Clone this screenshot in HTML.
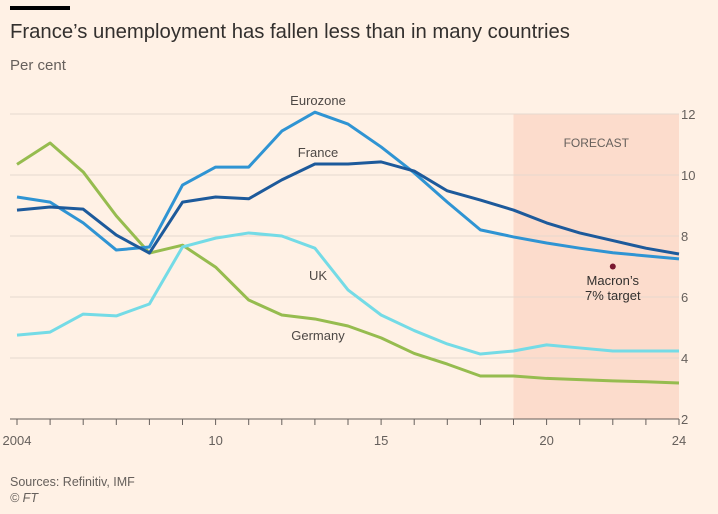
<!DOCTYPE html>
<html><head><meta charset="utf-8"><style>
body{margin:0;background:#fff1e5;width:718px;height:509px;overflow:hidden;font-family:"Liberation Sans",sans-serif}
svg text{font-family:"Liberation Sans",sans-serif}
</style></head><body>
<svg width="718" height="509">
<rect x="10" y="6" width="60" height="4" fill="#000"/>
<text x="10" y="38" font-size="20.3" fill="#33302e">France’s unemployment has fallen less than in many countries</text>
<text x="10" y="70" font-size="15" fill="#66605c">Per cent</text>
<g id="plot"></g>
<text x="10" y="486" font-size="12.5" fill="#66605c">Sources: Refinitiv, IMF</text>
<text x="10" y="502" font-size="12.5" fill="#66605c" font-style="italic">© FT</text>
</svg>
<script>
const years=[2004,2005,2006,2007,2008,2009,2010,2011,2012,2013,2014,2015,2016,2017,2018,2019,2020,2021,2022,2023,2024];
const eurozone=[9.28,9.11,8.43,7.54,7.64,9.67,10.26,10.26,11.44,12.06,11.67,10.92,10.07,9.11,8.2,7.97,7.77,7.6,7.45,7.35,7.25];
const france=[8.85,8.95,8.88,8.03,7.44,9.11,9.28,9.22,9.84,10.36,10.36,10.43,10.13,9.48,9.18,8.85,8.43,8.1,7.85,7.6,7.41];
const uk=[4.75,4.85,5.44,5.38,5.77,7.64,7.93,8.1,8.0,7.6,6.23,5.41,4.9,4.46,4.13,4.23,4.43,4.33,4.23,4.23,4.23];
const germany=[10.35,11.05,10.1,8.66,7.44,7.7,6.98,5.9,5.41,5.28,5.05,4.66,4.15,3.8,3.41,3.41,3.33,3.29,3.25,3.22,3.18];
const yTicks=[2,4,6,8,10,12];
const xTickLabels=[[2004,"2004"],[2010,"10"],[2015,"15"],[2020,"20"],[2024,"24"]];
const forecastStart=2019, targetYear=2022, targetValue=7;
const X=y=>17+(y-2004)*(662/20);
const Y=v=>419-(v-2)*30.5;
const NS="http://www.w3.org/2000/svg";
const g=document.getElementById('plot');
function mk(t,a){const e=document.createElementNS(NS,t);for(const k in a)e.setAttribute(k,a[k]);g.appendChild(e);return e;}
let r=mk('rect',{x:X(forecastStart),y:Y(12),width:X(2024)-X(forecastStart),height:Y(2)-Y(12),fill:'#fcdccc'});


let ft=mk('text',{x:(X(forecastStart)+X(2024))/2,y:147,'font-size':12,fill:'#66605c','text-anchor':'middle'});ft.textContent='FORECAST';


yTicks.forEach(v=>{
 let l=mk('line',{x1:10,x2:X(2024),y1:Y(v),y2:Y(v),stroke:v===2?'#66605c':'#e6d9ce','stroke-width':1});
 
 
 let t=mk('text',{x:X(2024)+2,y:Y(v)+5,'font-size':13,fill:'#66605c'});t.textContent=v;
 
 
});
years.forEach(y=>{
 let l=mk('line',{x1:X(y),x2:X(y),y1:Y(2),y2:Y(2)+6,stroke:'#66605c'});
 
 
});
xTickLabels.forEach(([y,s])=>{
 let t=mk('text',{x:X(y),y:Y(2)+26,'font-size':13,fill:'#66605c','text-anchor':'middle'});t.textContent=s;
 
 
});
function line(d,c,n){
 let p=mk('polyline',{points:d.map((v,i)=>X(years[i])+','+Y(v)).join(' '),fill:'none',stroke:c,'stroke-width':3,'stroke-linejoin':'round'});
 
 
}
line(germany,'#96bc4f','germany-line');
line(uk,'#74dbe6','uk-line');
line(eurozone,'#2f94d3','eurozone-line');
line(france,'#1d5a9b','france-line');
function lab(s,x,y,n){let t=mk('text',{x:x,y:y,'font-size':13,fill:'#4d4845','text-anchor':'middle'});t.textContent=s;
 
 }
lab('Eurozone',318,105,'eurozone-label');lab('France',318,157,'france-label');lab('UK',318,280,'uk-label');lab('Germany',318,340,'germany-label');
let c=mk('circle',{cx:X(targetYear),cy:Y(targetValue),r:3,fill:'#7a1830'});


let t1=mk('text',{x:X(targetYear),y:285,'font-size':13,fill:'#33302e','text-anchor':'middle'});t1.textContent='Macron’s';


let t2=mk('text',{x:X(targetYear),y:300,'font-size':13,fill:'#33302e','text-anchor':'middle'});t2.textContent='7% target';


</script>
</body></html>
